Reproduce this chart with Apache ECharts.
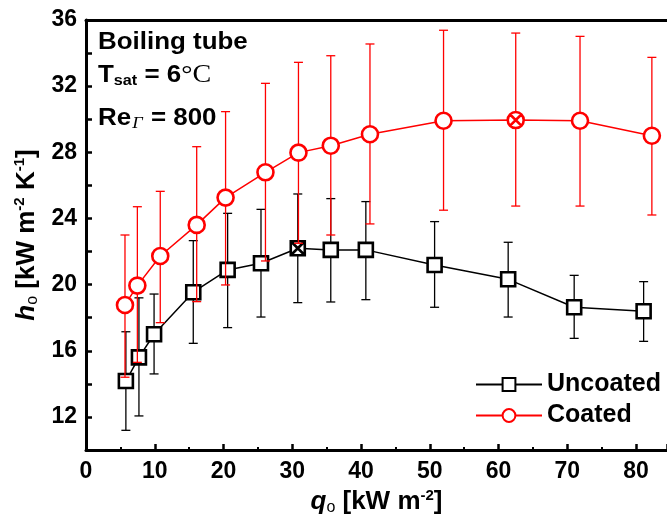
<!DOCTYPE html>
<html>
<head>
<meta charset="utf-8">
<script src="https://cdn.jsdelivr.net/npm/echarts@6/dist/echarts.min.js"></script>
<style>html,body{margin:0;padding:0;background:#fff;}#c{width:667px;height:517px;}</style>
</head>
<body>
<div id="c"></div>
<script>
// ---- data ----
var xTicks = [0, 10, 20, 30, 40, 50, 60, 70, 80];
var yTicks = [12, 16, 20, 24, 28, 32, 36];

var unX  = [5.8, 7.7, 9.9, 15.6, 20.6, 25.45, 30.8, 35.6, 40.7, 50.7, 61.4, 71.0, 81.1];
var unY  = [14.17, 15.6, 17.0, 19.54, 20.89, 21.29, 22.2, 22.1, 22.1, 21.19, 20.32, 18.63, 18.39];
var unHi = [17.15, 19.2, 19.43, 22.66, 24.31, 24.55, 25.48, 25.2, 25.02, 23.81, 22.56, 20.56, 20.18];
var unLo = [11.19, 12.06, 14.6, 16.45, 17.4, 18.04, 18.91, 18.95, 19.09, 18.63, 18.04, 16.75, 16.57];

var coX  = [5.67, 7.47, 10.8, 16.1, 20.3, 26.1, 30.9, 35.6, 41.3, 52.0, 62.5, 71.85, 82.3];
var coY  = [18.77, 19.94, 21.73, 23.61, 25.26, 26.79, 27.98, 28.4, 29.09, 29.91, 29.95, 29.91, 29.0];
var coHi = [23.0, 24.71, 25.64, 28.34, 30.46, 32.17, 33.44, 33.84, 34.55, 35.38, 35.21, 35.01, 33.74];
var coLo = [14.4, 15.3, 17.7, 18.97, 19.98, 21.43, 22.5, 23.0, 23.67, 24.5, 24.75, 24.75, 24.21];

var unMarked = 6;   // index of crossed square
var coMarked = 10;  // index of crossed circle

// ---- build ----
var FONT = 'Liberation Sans, Arial, sans-serif';
var RED = '#ff0000', BLK = '#000000';

function pts(xs, ys, markIdx, markPath) {
  return xs.map(function (x, i) {
    var d = { value: [x, ys[i]] };
    if (i === markIdx) d.symbol = markPath;
    return d;
  });
}
function errs(xs, lo, hi) {
  return xs.map(function (x, i) { return [x, lo[i], hi[i]]; });
}
function errRender(color) {
  return function (params, api) {
    var x = api.value(0);
    var a = api.coord([x, api.value(2)]);
    var b = api.coord([x, api.value(1)]);
    var cw = 4.5;
    var st = { stroke: color, lineWidth: 1.3 };
    return {
      type: 'group',
      children: [
        { type: 'line', shape: { x1: a[0], y1: a[1], x2: b[0], y2: b[1] }, style: st },
        { type: 'line', shape: { x1: a[0] - cw, y1: a[1], x2: a[0] + cw, y2: a[1] }, style: st },
        { type: 'line', shape: { x1: b[0] - cw, y1: b[1], x2: b[0] + cw, y2: b[1] }, style: st }
      ]
    };
  };
}

var sqPath = 'path://M0,0L20,0L20,20L0,20Z';
var sqX = 'path://M0,0L20,0L20,20L0,20Z M0,0L20,20 M20,0L0,20';
var ciX = 'path://M0,10A10,10 0 1,1 20,10A10,10 0 1,1 0,10Z M3,3L17,17 M17,3L3,17';

var chart = echarts.init(document.getElementById('c'), null, { renderer: 'canvas' });

var axisLabel = { fontFamily: FONT, fontWeight: 'bold', fontSize: 23, color: '#000' };
function nameRich(size) {
  return {
    i: { fontFamily: FONT, fontWeight: 'bold', fontStyle: 'italic', fontSize: size, color: '#000' },
    t: { fontFamily: FONT, fontWeight: 'bold', fontSize: size, color: '#000' },
    sub: { fontFamily: FONT, fontSize: 16, color: '#000', verticalAlign: 'bottom', padding: [12, 0, 0, 0] },
    sup: { fontFamily: FONT, fontWeight: 'bold', fontSize: 15, color: '#000', verticalAlign: 'top', padding: [0, 0, 12, 0] }
  };
}

var option = {
  backgroundColor: '#fff',
  animation: false,
  grid: { left: 86, right: 0, top: 20, bottom: 67, containLabel: false, outerBoundsMode: 'none' },
  xAxis: [{
    type: 'value', min: 0, max: 84.5, interval: 10, position: 'bottom',
    axisLine: { show: true, onZero: false, lineStyle: { color: BLK, width: 3 } },
    axisTick: { show: true, inside: true, length: 6, lineStyle: { color: BLK, width: 2.5 } },
    minorTick: { show: true, splitNumber: 2, length: 3, lineStyle: { color: BLK, width: 2 } },
    splitLine: { show: false },
    axisLabel: Object.assign({ margin: 10, customValues: xTicks }, axisLabel),
    name: '{i|q}{sub|o}{t| [kW m}{sup|-2}{t|]}',
    nameLocation: 'middle', nameGap: 38,
    nameTextStyle: { rich: nameRich(26) }
  }, {
    type: 'value', min: 0, max: 84.5, position: 'top',
    axisLine: { show: true, onZero: false, lineStyle: { color: BLK, width: 3 } },
    axisTick: { show: false }, axisLabel: { show: false }, splitLine: { show: false }
  }],
  yAxis: [{
    type: 'value', min: 10, max: 36, interval: 2,
    axisLine: { show: true, onZero: false, lineStyle: { color: BLK, width: 3 } },
    axisTick: { show: true, inside: true, length: 6, lineStyle: { color: BLK, width: 2.5 } },
    splitLine: { show: false },
    axisLabel: Object.assign({ margin: 9, customValues: yTicks }, axisLabel),
    name: '{i|h}{sub|o}{t| [kW m}{sup|-2}{t| K}{sup|-1}{t|]}',
    nameLocation: 'middle', nameGap: 44, nameRotate: 90,
    nameTextStyle: { rich: nameRich(26) }
  }],
  legend: {
    orient: 'vertical', left: 470, top: 367, itemGap: 6,
    itemWidth: 66, itemHeight: 16,
    textStyle: { fontFamily: FONT, fontWeight: 'bold', fontSize: 25, color: '#000' },
    data: ['Uncoated', 'Coated']
  },
  graphic: [
    { type: 'text', left: 98, top: 30, scaleX: 1.08, style: { text: 'Boiling tube', fontFamily: FONT, fontWeight: 'bold', fontSize: 24, fill: '#000' } },
    { type: 'text', left: 98, top: 62, scaleX: 1.08, style: {
      text: '{t|T}{s|sat}{t| = 6}{c|°C}',
      rich: {
        t: { fontFamily: FONT, fontWeight: 'bold', fontSize: 24, fill: '#000' },
        s: { fontFamily: FONT, fontWeight: 'bold', fontSize: 15, fill: '#000', verticalAlign: 'bottom', padding: [11, 0, 0, 0] },
        c: { fontFamily: 'Liberation Serif, serif', fontSize: 26, fill: '#000' }
      } } },
    { type: 'text', left: 98, top: 106, scaleX: 1.08, style: {
      text: '{t|Re}{g|Γ}{t| = 800}',
      rich: {
        t: { fontFamily: FONT, fontWeight: 'bold', fontSize: 24, fill: '#000' },
        g: { fontFamily: 'Liberation Serif, serif', fontStyle: 'italic', fontSize: 17, fill: '#000', verticalAlign: 'bottom', padding: [11, 1, 0, 1] }
      } } }
  ],
  series: [
    { name: 'UncoatedErr', type: 'custom', z: 1, renderItem: errRender(BLK), data: errs(unX, unLo, unHi), encode: { x: 0, y: [1, 2] }, silent: true },
    { name: 'Uncoated', type: 'line', z: 2, data: pts(unX, unY, unMarked, sqX),
      symbol: sqPath, symbolSize: 14,
      lineStyle: { color: BLK, width: 1.5 },
      itemStyle: { color: '#fff', borderColor: BLK, borderWidth: 2.6 } },
    { name: 'CoatedErr', type: 'custom', z: 3, renderItem: errRender(RED), data: errs(coX, coLo, coHi), encode: { x: 0, y: [1, 2] }, silent: true },
    { name: 'Coated', type: 'line', z: 4, data: pts(coX, coY, coMarked, ciX),
      symbol: 'circle', symbolSize: 16,
      lineStyle: { color: RED, width: 1.5 },
      itemStyle: { color: '#fff', borderColor: RED, borderWidth: 2.6 } }
  ]
};
chart.setOption(option);
</script>
</body>
</html>
